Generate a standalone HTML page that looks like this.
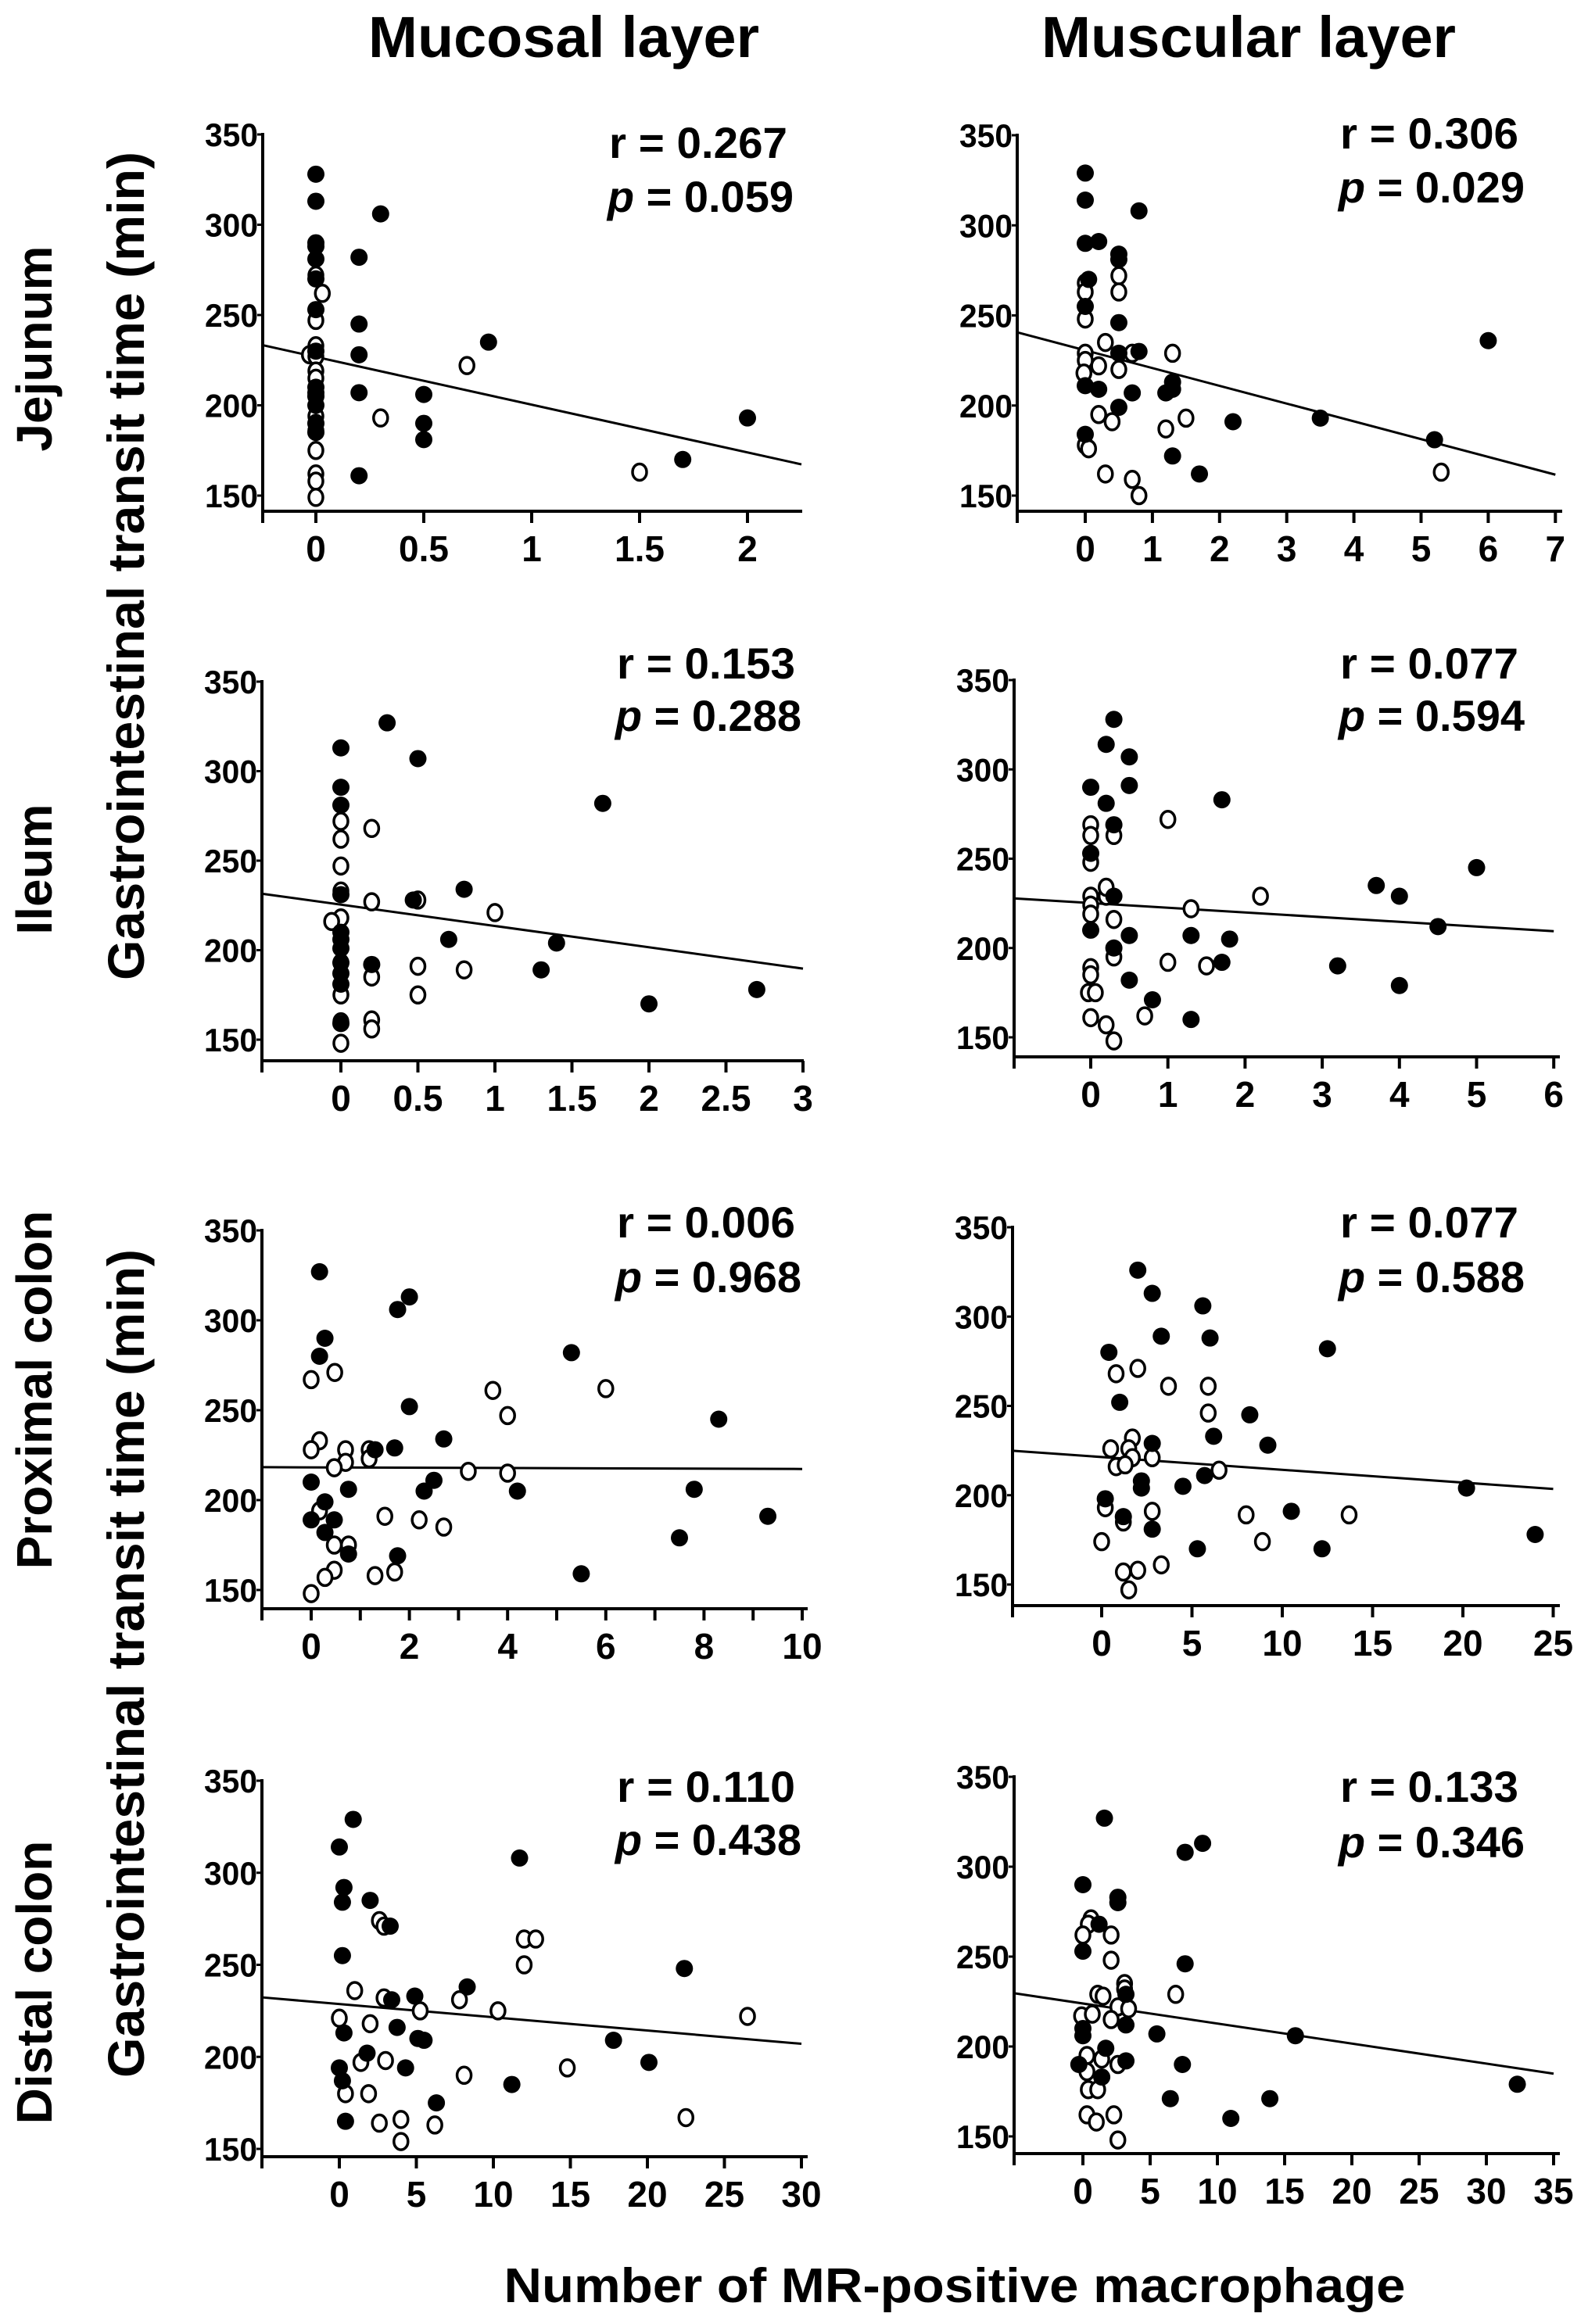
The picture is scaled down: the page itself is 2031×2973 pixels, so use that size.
<!DOCTYPE html>
<html><head><meta charset="utf-8">
<style>
html,body{margin:0;padding:0;background:#fff;}
svg{display:block;}
text{font-family:"Liberation Sans",Arial,sans-serif;font-weight:bold;fill:#000;}
</style></head>
<body>
<svg id="fig" width="2031" height="2973" viewBox="0 0 2031 2973" xmlns="http://www.w3.org/2000/svg">
<text x="721" y="73" font-size="74" text-anchor="middle" textLength="500" lengthAdjust="spacingAndGlyphs">Mucosal layer</text>
<text x="1597" y="73" font-size="74" text-anchor="middle" textLength="530" lengthAdjust="spacingAndGlyphs">Muscular layer</text>
<text transform="translate(66,446) rotate(-90)" font-size="64" text-anchor="middle">Jejunum</text>
<text transform="translate(66,1112) rotate(-90)" font-size="64" text-anchor="middle">Ileum</text>
<text transform="translate(66,1778) rotate(-90)" font-size="64" text-anchor="middle">Proximal colon</text>
<text transform="translate(66,2536) rotate(-90)" font-size="64" text-anchor="middle">Distal colon</text>
<text transform="translate(184,724) rotate(-90)" font-size="66" text-anchor="middle" textLength="1060" lengthAdjust="spacingAndGlyphs">Gastrointestinal transit time (min)</text>
<text transform="translate(184,2128) rotate(-90)" font-size="66" text-anchor="middle" textLength="1060" lengthAdjust="spacingAndGlyphs">Gastrointestinal transit time (min)</text>
<text x="1221" y="2945" font-size="62" text-anchor="middle" textLength="1153" lengthAdjust="spacingAndGlyphs">Number of  MR-positive macrophage</text>
</svg>
<script>
// ---- data ----
const yTicks = [150, 200, 250, 300, 350];
const statsR = ["0.267","0.306","0.153","0.077","0.006","0.077","0.110","0.133"];
const statsP = ["0.059","0.029","0.288","0.594","0.968","0.588","0.438","0.346"];
const xTickA = [0,0.5,1,1.5,2]; const xLabA = ["0","0.5","1","1.5","2"];
const xTickB = [0,1,2,3,4,5,6,7]; const xLabB = ["0","1","2","3","4","5","6","7"];
const xTickC = [0,0.5,1,1.5,2,2.5,3]; const xLabC = ["0","0.5","1","1.5","2","2.5","3"];
const xTickD = [0,1,2,3,4,5,6]; const xLabD = ["0","1","2","3","4","5","6"];
const xTickE = [0,1,2,3,4,5,6,7,8,9,10]; const xLabE = ["0","","2","","4","","6","","8","","10"];
const xTickF = [0,5,10,15,20,25]; const xLabF = ["0","5","10","15","20","25"];
const xTickG = [0,5,10,15,20,25,30]; const xLabG = ["0","5","10","15","20","25","30"];
const xTickH = [0,5,10,15,20,25,30,35]; const xLabH = ["0","5","10","15","20","25","30","35"];
// filled points [x, y]
const filledA = [[0,328],[0,313],[0,290],[0,288],[0,281],[0,270],[0,253],[0,230],[0,210],[0,207],[0,205],[0,200],[0,190],[0,185],[0.2,282],[0.2,245],[0.2,228],[0.2,207],[0.2,161],[0.3,306],[0.5,206],[0.5,190],[0.5,181],[0.8,235],[1.7,170],[2.0,193]];
const openA = [[0,272],[0.03,262],[0,247],[0,233],[-0.03,228],[0,227],[0,219],[0,215],[0,205],[0,194],[0,190],[0,186],[0,175],[0,162],[0,158],[0,149],[0.3,193],[0.7,222],[1.5,163]];
const filledB = [[0,329],[0,314],[0,290],[0.2,291],[0.5,284],[0.5,281],[0.05,270],[0,255],[0.5,246],[0.8,308],[0.5,229],[0.8,230],[0,211],[0.2,209],[0.5,199],[0.7,207],[1.2,207],[1.3,213],[1.3,209],[2.2,191],[3.5,193],[5.2,181],[6.0,236],[1.3,172],[1.7,162],[0,184]];
const openB = [[0,229],[0,225],[-0.02,218],[0,248],[0,268],[0,263],[0.5,272],[0.5,263],[0.3,235],[0.7,229],[0.2,222],[0.5,220],[1.3,229],[0.2,195],[0.4,191],[1.5,193],[1.2,187],[0,178],[0.05,176],[0.3,162],[0.7,159],[0.8,150],[5.3,163]];
const filledC = [[0,313],[0,291],[0,281],[0,231],[0,210],[0,206],[0,201],[0,193],[0,187],[0,181],[0,159],[0.3,327],[0.5,307],[0.47,228],[0.8,234],[0.7,206],[1.4,204],[1.3,189],[1.7,282],[2.0,170],[2.7,178],[0.2,192]];
const openC = [[0,272],[0,262],[0,247],[0,233],[0,218],[-0.06,216],[0,193],[0,175],[0,160],[0,148],[0.2,268],[0.2,227],[0.2,185],[0.2,161],[0.2,156],[0.5,228],[0.5,191],[0.5,175],[0.8,189],[1.0,221]];
const filledD = [[0.3,328],[0.2,314],[0.5,307],[0,290],[0.5,291],[0.2,281],[0.3,269],[0,253],[0.3,229],[0,210],[0.5,207],[0.3,200],[0.5,182],[0.8,171],[1.3,207],[1.3,160],[1.8,205],[1.7,192],[1.7,283],[3.2,190],[3.7,235],[4.0,229],[4.0,179],[4.5,212],[5.0,245]];
const openD = [[0,269],[0,263],[0,248],[0,229],[0,224],[0,219],[0,189],[0,185],[-0.03,175],[0.06,175],[0,161],[0.2,229],[0.2,234],[0.3,263],[0.3,216],[0.3,195],[0.2,157],[0.3,148],[0.7,162],[1.0,272],[1.0,192],[1.3,222],[1.5,190],[2.2,229]];
const filledE = [[0.17,327],[0.28,290],[0.17,280],[1.76,306],[2.0,313],[2.0,252],[1.7,229],[2.7,234],[2.5,211],[2.3,205],[4.2,205],[5.3,282],[5.5,159],[8.3,245],[7.8,206],[7.5,179],[9.3,191],[0,210],[0.76,206],[0.28,199],[0,189],[0.47,189],[0.28,182],[0.76,170],[1.76,169],[1.3,228]];
const openE = [[0,267],[0.48,271],[0.17,233],[0,228],[0.7,228],[0.7,221],[0.47,218],[1.18,228],[1.18,223],[0.17,194],[0.47,175],[0.76,175],[0.47,161],[0.28,157],[0,148],[1.3,158],[1.7,160],[1.5,191],[2.2,189],[2.7,185],[3.2,216],[3.7,261],[4.0,247],[4.0,215],[6.0,262]];
const filledF = [[2.0,326],[2.8,313],[5.6,306],[3.3,289],[6.0,288],[0.4,280],[12.5,282],[1.0,252],[8.2,245],[6.2,233],[2.8,229],[9.2,228],[5.7,211],[2.2,208],[2.2,204],[4.5,205],[0.2,198],[1.2,188],[2.8,181],[10.5,191],[5.3,170],[12.2,170],[20.2,204],[24,178]];
const openF = [[0.8,268],[2.0,271],[3.7,261],[5.9,261],[5.9,246],[1.7,232],[0.5,226],[1.5,226],[1.7,221],[2.8,221],[0.8,216],[1.3,217],[6.5,214],[0.2,193],[2.8,191],[1.2,185],[8.0,189],[13.7,189],[0,174],[8.9,174],[1.2,157],[2.0,158],[3.3,161],[1.5,147]];
const filledG = [[0.9,329],[0,314],[0.3,292],[0.2,284],[2.0,285],[0.2,255],[0.3,213],[0,194],[0.2,187],[0.4,165],[1.8,202],[3.4,231],[3.75,216],[4.3,194],[3.3,271],[4.9,233],[5.1,210],[5.5,209],[6.3,175],[8.3,238],[11.7,308],[11.2,185],[17.8,209],[20.1,197],[22.4,248]];
const openG = [[0,221],[0.4,180],[1.0,236],[1.4,197],[2.0,218],[1.9,180],[2.6,274],[2.9,271],[3.0,198],[2.9,232],[2.6,164],[4.0,166],[4.0,154],[5.25,225],[6.2,163],[7.8,231],[8.1,190],[10.3,225],[12,264],[12.75,264],[12,250],[14.8,194],[22.5,167],[26.5,222]];
const filledH = [[1.6,327],[0,290],[2.6,283],[2.6,280],[1.2,268],[0,253],[7.6,308],[8.9,313],[7.6,246],[3.2,229],[3.2,212],[5.5,207],[0,210],[0,206],[1.7,199],[-0.3,190],[3.2,192],[7.4,190],[1.4,183],[6.5,171],[11,160],[13.9,171],[15.8,206],[32.3,179]];
const openH = [[0.6,271],[0.4,268],[0,262],[2.1,262],[2.1,248],[3.1,235],[3.1,232],[1.1,229],[1.5,228],[2.6,222],[3.4,221],[-0.1,217],[0.7,218],[2.1,215],[0.3,195],[1.4,193],[2.6,190],[0.3,186],[0.4,176],[1.1,176],[0.3,162],[1.0,158],[2.3,162],[2.6,148],[6.9,229]];
// regression line endpoints [x, y]
const lineA = [[-0.246,233.3],[2.25,167.3]];
const lineB = [[-1.01,240.6],[7.0,161.6]];
const lineC = [[-0.51,231.5],[3.0,189.7]];
const lineD = [[-1.0,227.8],[6.0,209.4]];
const lineE = [[-1.0,218.3],[10.0,217.3]];
const lineF = [[-4.93,224.9],[25.0,203.5]];
const lineG = [[-5.0,232.3],[30.0,207.1]];
const lineH = [[-5.1,229.6],[35.0,184.9]];

// ---- layout (pixels) ----
const panels = [
 {id:"jejunum-mucosal", ax:336, x0:404, ux:276, xEnd:1026, y350:172, y150:634, axisY:654, rx:1015, rY:202, pY:271, ticks:xTickA, labs:xLabA, f:filledA, o:openA, line:lineA, s:0},
 {id:"jejunum-muscular", ax:1301, x0:1388, ux:85.9, xEnd:1998, y350:173, y150:634, axisY:654, rx:1950, rY:190, pY:259, ticks:xTickB, labs:xLabB, f:filledB, o:openB, line:lineB, s:1},
 {id:"ileum-mucosal", ax:335, x0:436, ux:197, xEnd:1028, y350:872, y150:1330, axisY:1357, rx:1025, rY:868, pY:935, ticks:xTickC, labs:xLabC, f:filledC, o:openC, line:lineC, s:2},
 {id:"ileum-muscular", ax:1297, x0:1395, ux:98.7, xEnd:1995, y350:870, y150:1327, axisY:1352, rx:1950, rY:868, pY:935, ticks:xTickD, labs:xLabD, f:filledD, o:openD, line:lineD, s:3},
 {id:"proximal-colon-mucosal", ax:335, x0:398, ux:62.8, xEnd:1033, y350:1574, y150:2034, axisY:2058, rx:1025, rY:1583, pY:1653, ticks:xTickE, labs:xLabE, f:filledE, o:openE, line:lineE, s:4},
 {id:"proximal-colon-muscular", ax:1295, x0:1409, ux:23.1, xEnd:1995, y350:1570, y150:2027, axisY:2054, rx:1950, rY:1583, pY:1653, ticks:xTickF, labs:xLabF, f:filledF, o:openF, line:lineF, s:5},
 {id:"distal-colon-mucosal", ax:335, x0:434, ux:19.7, xEnd:1033, y350:2278, y150:2749, axisY:2759, rx:1025, rY:2305, pY:2373, ticks:xTickG, labs:xLabG, f:filledG, o:openG, line:lineG, s:6},
 {id:"distal-colon-muscular", ax:1297, x0:1385, ux:17.2, xEnd:1995, y350:2273, y150:2733, axisY:2755, rx:1950, rY:2305, pY:2376, ticks:xTickH, labs:xLabH, f:filledH, o:openH, line:lineH, s:7}
];
const NS = "http://www.w3.org/2000/svg";
const svg = document.getElementById("fig");
function mk(tag, attrs, parent){const e=document.createElementNS(NS,tag);for(const k in attrs)e.setAttribute(k,attrs[k]);parent.appendChild(e);return e;}

panels.forEach(P=>{
  const X = v => P.x0 + v*P.ux;
  const Y = v => P.y150 - (v-150)*(P.y150-P.y350)/200;
  const g = mk("g",{},svg);
  
  
  const ya = mk("line",{x1:P.ax,y1:P.y350-2,x2:P.ax,y2:P.axisY,stroke:"#000","stroke-width":4},g);
  
  
  const xa = mk("line",{x1:P.ax-2,y1:P.axisY,x2:P.xEnd,y2:P.axisY,stroke:"#000","stroke-width":4},g);
  
  
  mk("line",{x1:P.ax,y1:P.axisY,x2:P.ax,y2:P.axisY+15,stroke:"#000","stroke-width":4},g);
  yTicks.forEach(t=>{
    const yy=Y(t);
    mk("line",{x1:P.ax-7,y1:yy,x2:P.ax,y2:yy,stroke:"#000","stroke-width":3},g);
    const tl = mk("text",{x:P.ax-6,y:yy+15,"font-size":42,"text-anchor":"end",textLength:68,lengthAdjust:"spacingAndGlyphs"},g);
    tl.textContent=t;
    
    
  });
  P.ticks.forEach((t,i)=>{
    const xx=X(t);
    mk("line",{x1:xx,y1:P.axisY,x2:xx,y2:P.axisY+15,stroke:"#000","stroke-width":4},g);
    if(P.labs[i]){
      const tl = mk("text",{x:xx,y:P.axisY+64,"font-size":46,"text-anchor":"middle"},g);
      tl.textContent=P.labs[i];
      
      
    }
  });
  const rl = mk("line",{x1:X(P.line[0][0]),y1:Y(P.line[0][1]),x2:X(P.line[1][0]),y2:Y(P.line[1][1]),stroke:"#000","stroke-width":3},g);
  
  
  P.o.forEach(p=>{
    const c = mk("ellipse",{cx:X(p[0]),cy:Y(p[1]),rx:9,ry:10.5,fill:"#fff",stroke:"#000","stroke-width":3.5},g);
    
    
  });
  P.f.forEach(p=>{
    const c = mk("ellipse",{cx:X(p[0]),cy:Y(p[1]),rx:11,ry:11,fill:"#000"},g);
    
    
  });
  const rt = mk("text",{x:P.rx-8,y:P.rY,"font-size":56,"text-anchor":"end",textLength:228,lengthAdjust:"spacingAndGlyphs"},g);
  rt.textContent = "r = " + statsR[P.s];
  
  
  const pt = mk("text",{x:P.rx,y:P.pY,"font-size":56,"text-anchor":"end"},g);
  const pi = mk("tspan",{"font-style":"italic"},pt); pi.textContent="p";
  const pv = mk("tspan",{},pt); pv.textContent=" = " + statsP[P.s];
  
  
});
</script>
</body></html>
